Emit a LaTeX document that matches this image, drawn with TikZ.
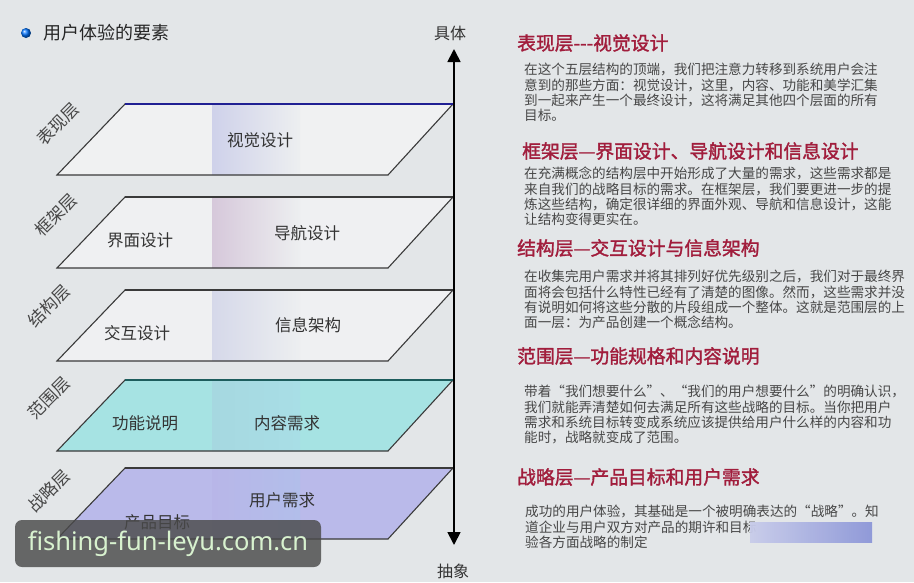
\documentclass[tikz,border=0pt]{standalone}
\usepackage{fontspec}
\newfontfamily\cjk{Noto Sans CJK SC}
\newfontfamily\cjkbold[FakeBold=1.6]{Noto Sans CJK SC}
\newfontfamily\wmfont{Noto Sans}
\usetikzlibrary{arrows.meta}
\definecolor{bg}{HTML}{E3E6E8}
\definecolor{headred}{HTML}{A11D3C}
\definecolor{edgegrey}{HTML}{3A3A3A}
\definecolor{wmbox}{HTML}{4A4A4A}
\definecolor{wmtext}{HTML}{D8F2CF}
\newcommand\myplane[5]{%
  \begin{scope}
    \clip (57,{#1+71}) -- (388,{#1+71}) -- (453,#1) -- (125,#1) -- cycle;
    \fill[#2] (50,#1) rectangle (460,{#1+72});
    \shade[left color=#3, right color=#4] (212,#1) rectangle (300,{#1+72});
  \end{scope}
  \draw[planeedge] (57,{#1+71}) -- (388,{#1+71}) -- (453,#1) -- (125,#1) -- cycle;
  \draw[planeedge,#5] (125,#1) -- (453,#1);}
\begin{document}
\begin{tikzpicture}[x=1pt,y=-1pt,
  planeedge/.style={draw=edgegrey, line width=1.1pt, line join=miter},
  layerlabel/.style={font=\cjk\fontsize{17}{17}\selectfont, text=black!72, rotate=45, inner sep=0},
  planetext/.style={font=\cjk\fontsize{16.5}{18}\selectfont, text=black!80, inner sep=0},
  axislabel/.style={font=\cjk\fontsize{16}{18}\selectfont, text=black!80, inner sep=0},
  head/.style={font=\cjkbold\fontsize{18.8}{20}\selectfont, text=headred, anchor=west, inner sep=0},
  para/.style={font=\cjk\fontsize{13.6}{15.3}\selectfont, text=black!72, anchor=north west, align=left, inner sep=0},
  axisarrow/.style={draw=black, line width=1.8pt, {Triangle[length=13pt,width=13pt]}-{Triangle[length=13pt,width=13pt]}}
]
\useasboundingbox (0,0) rectangle (914,582);
\fill[bg] (0,0) rectangle (914,582);

% title
\shade[ball color=blue!55!cyan] (26,33) circle (5pt);
\node[font=\cjk\fontsize{18}{20}\selectfont, anchor=west, inner sep=0, text=black!85] (title) at (43,33) {用户体验的要素};

% planes
\myplane{104}{fill=white!45!bg}{blue!9!bg}{white!35!bg}{draw=blue!45!edgegrey}
\myplane{197}{fill=white!42!bg}{violet!13!bg}{white!35!bg}{}
\myplane{290}{fill=white!42!bg}{blue!6!bg}{white!35!bg}{}
\myplane{380}{fill={rgb,255:red,166;green,227;blue,227}}{{rgb,255:red,166;green,216;blue,224}}{{rgb,255:red,168;green,222;blue,230}}{draw=teal!50!edgegrey}
\myplane{468}{fill={rgb,255:red,186;green,186;blue,234}}{{rgb,255:red,184;green,182;blue,232}}{{rgb,255:red,178;green,190;blue,234}}{}

% plane texts
\node[planetext] (visual) at (260,140) {视觉设计};
\node[planetext] (interface) at (140,240) {界面设计};
\node[planetext] (navigation) at (307,233) {导航设计};
\node[planetext] (interaction) at (137,333) {交互设计};
\node[planetext] (infoarch) at (308,325) {信息架构};
\node[planetext] (funcspec) at (145,423) {功能说明};
\node[planetext] (content) at (287,423) {内容需求};
\node[planetext] (userneeds) at (282,500) {用户需求};
\node[planetext] (goals) at (157,522) {产品目标};

% layer labels
\node[layerlabel] (l1) at (58,124) {表现层};
\node[layerlabel] (l2) at (56,215) {框架层};
\node[layerlabel] (l3) at (49,306) {结构层};
\node[layerlabel] (l4) at (49,398) {范围层};
\node[layerlabel] (l5) at (49,491) {战略层};

% axis
\coordinate (axtop) at (454,49);
\coordinate (axbot) at (454,545);
\draw[axisarrow] (axbot) -- (axtop);
\node[axislabel] (concrete) at (450,33) {具体};
\node[axislabel] (abstract) at (453,571) {抽象};

% right column
\node[head] (h1) at (517,43) {表现层---视觉设计};
\node[para] (p1) at (524,63) {在这个五层结构的顶端，我们把注意力转移到系统用户会注\\意到的那些方面：视觉设计，这里，内容、功能和美学汇集\\到一起来产生一个最终设计，这将满足其他四个层面的所有\\目标。};

\node[head] (h2) at (522,151) {框架层—界面设计、导航设计和信息设计};
\node[para] (p2) at (524,167) {在充满概念的结构层中开始形成了大量的需求，这些需求都是\\来自我们的战略目标的需求。在框架层，我们要更进一步的提\\炼这些结构，确定很详细的界面外观、导航和信息设计，这能\\让结构变得更实在。};

\node[head] (h3) at (517,248) {结构层—交互设计与信息架构};
\node[para] (p3) at (524,270) {在收集完用户需求并将其排列好优先级别之后，我们对于最终界\\面将会包括什么特性已经有了清楚的图像。然而，这些需求并没\\有说明如何将这些分散的片段组成一个整体。这就是范围层的上\\面一层：为产品创建一个概念结构。};

\node[head] (h4) at (517,356) {范围层—功能规格和内容说明};
\node[para] (p4) at (524,385) {带着“我们想要什么”、“我们的用户想要什么”的明确认识，\\我们就能弄清楚如何去满足所有这些战略的目标。当你把用户\\需求和系统目标转变成系统应该提供给用户什么样的内容和功\\能时，战略就变成了范围。};

\node[head] (h5) at (517,477) {战略层—产品目标和用户需求};
\node[para] (p5) at (525,505) {成功的用户体验，其基础是一个被明确表达的“战略”。知\\道企业与用户双方对产品的期许和目标\\验各方面战略的制定};
\shade[left color={rgb,255:red,200;green,204;blue,234}, right color={rgb,255:red,140;green,150;blue,216}, opacity=0.95] (750,522) rectangle (872,542);

% watermark
\node[fill=wmbox, fill opacity=0.82, text opacity=1, rounded corners=7pt, minimum width=306pt, minimum height=47pt, inner sep=0] (wmbg) at (168,543.5) {};
\node[font=\wmfont\fontsize{25.5}{27}\selectfont, text=wmtext, inner sep=0] (wm) at (wmbg.center) {fishing-fun-leyu.com.cn};
\end{tikzpicture}
\end{document}
